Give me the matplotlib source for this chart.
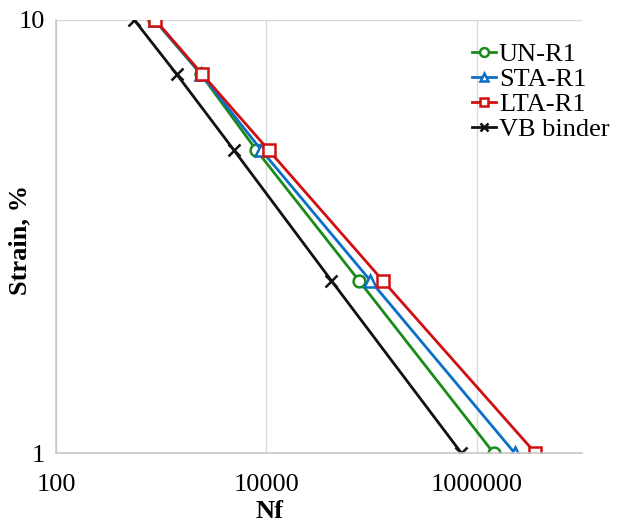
import matplotlib.pyplot as plt
from matplotlib.ticker import FixedLocator, FixedFormatter, NullLocator

plt.rcParams['font.family'] = ['Liberation Serif', 'DejaVu Serif']

strain = [10, 7.5, 5, 2.5, 1]

nf_un = [862, 2380, 8050, 75900, 1445000]
nf_sta = [870, 2400, 8980, 97500, 2290000]
nf_lta = [880, 2450, 10550, 128000, 3600000]
nf_vb = [555, 1400, 4930, 41500, 713000]

labels = ['UN-R1', 'STA-R1', 'LTA-R1', 'VB binder']
colors = ['#1a8a1a', '#0a6fc8', '#d01010', '#111111']
markers = ['o', '^', 's', 'x']

W, H = 620, 523
fig = plt.figure(figsize=(W / 100, H / 100), dpi=100)
ax = fig.add_axes([56 / W, (H - 453) / H, 526 / W, 433 / H])

for nf, lab, c, m in zip([nf_un, nf_sta, nf_lta, nf_vb], labels, colors, markers):
    ax.plot(nf, strain, color=c, lw=2, marker=m, ms=8.5, mew=1.8,
            mfc='white' if m != 'x' else c, mec=c, label=lab)

ax.set_xscale('log')
ax.set_yscale('log')
ax.set_xlim(100, 1e7)
ax.set_ylim(1, 10)

ax.xaxis.set_major_locator(FixedLocator([100, 1e4, 1e6]))
ax.xaxis.set_major_formatter(FixedFormatter(['100', '10000', '1000000']))
ax.xaxis.set_minor_locator(NullLocator())
ax.yaxis.set_major_locator(FixedLocator([1, 10]))
ax.yaxis.set_major_formatter(FixedFormatter(['1', '10']))
ax.yaxis.set_minor_locator(NullLocator())
ax.tick_params(length=0, labelsize=19)
ax.tick_params(axis='x', pad=15)
ax.tick_params(axis='y', pad=8)

ax.grid(True, which='major', color='#d9d9d9', lw=1)
ax.set_axisbelow(True)
for side in ['top', 'right']:
    ax.spines[side].set_visible(False)
for side in ['left', 'bottom']:
    ax.spines[side].set_color('#c8c8c8')
    ax.spines[side].set_linewidth(1.2)

# axis titles placed in figure pixels
ax.set_xlabel('Nf', fontsize=19, fontweight='bold')
ax.set_ylabel('Strain, %', fontsize=19, fontweight='bold')
ax.xaxis.set_label_coords(270 / W, (H - 511) / H, transform=fig.transFigure)
ax.yaxis.set_label_coords(20 / W, (H - 240) / H, transform=fig.transFigure)
ax.xaxis.label.set_va('center')
ax.yaxis.label.set_va('center')

leg = ax.legend(loc='upper left', bbox_to_anchor=(472 / W, (H - 43) / H), bbox_transform=fig.transFigure,
                frameon=False, fontsize=19, handlelength=0.9, handletextpad=0.12,
                labelspacing=0.05, borderpad=0, borderaxespad=0, markerscale=0.75)

fig.savefig('out.png', dpi=100)
